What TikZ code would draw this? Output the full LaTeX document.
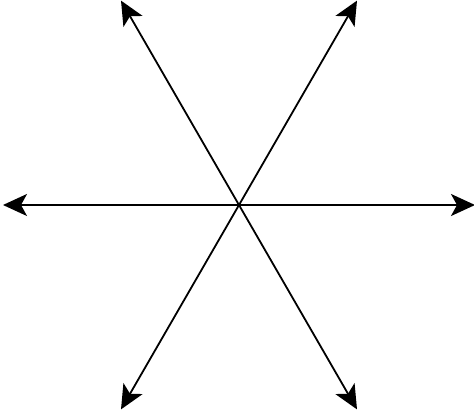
\documentclass[tikz,border=0pt]{standalone}
\usetikzlibrary{arrows.meta, calc}
\begin{document}
\begin{tikzpicture}[x=1pt, y=1pt, line width=1.8pt,
    >={Stealth[length=24pt, width=22pt, inset=6pt]}]
    \useasboundingbox (0,0) rectangle (474,410);
    \coordinate (O) at (239,205);
    \foreach \a/\n in {0/R, 60/TR, 120/TL, 180/L, 240/BL, 300/BR}
        \coordinate (\n) at ($(O)+(\a:236)$);
    \draw[<->] (L) -- (R);
    \draw[<->] (BL) -- (TR);
    \draw[<->] (BR) -- (TL);
\end{tikzpicture}
\end{document}
